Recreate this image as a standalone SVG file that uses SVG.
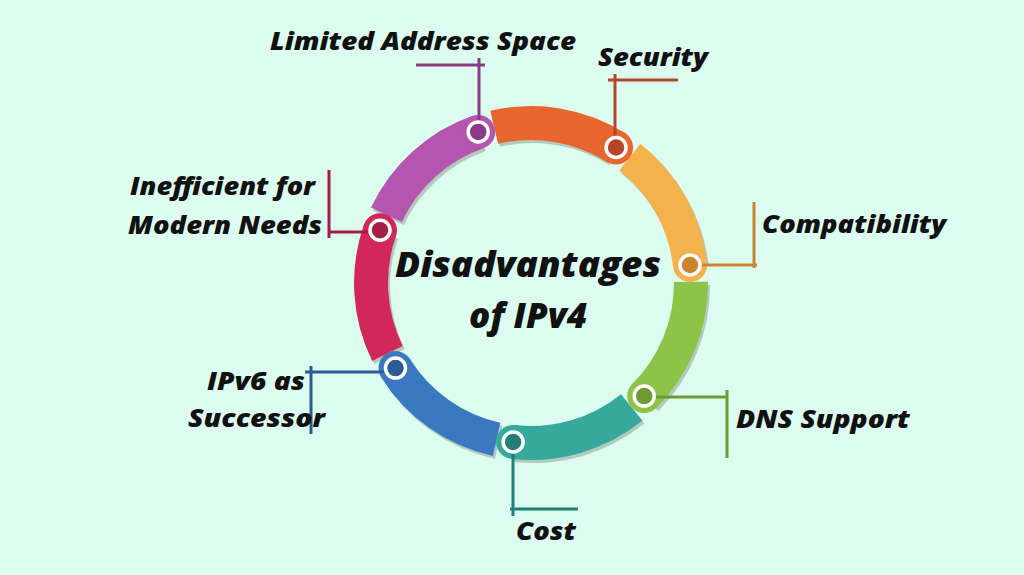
<svg xmlns="http://www.w3.org/2000/svg" width="1024" height="575" viewBox="0 0 1024 575">
<style>
.seg{fill:none;stroke-width:34;stroke-linecap:butt}
.sh{fill:none;stroke:#9fb3aa;stroke-width:34;opacity:.7}
.dot{stroke:#ffffff;stroke-width:3.5}
.ln{stroke-width:3;fill:none}
.lbl{font-family:"Open Sans","Liberation Sans",sans-serif;font-weight:800;font-style:italic;font-size:24px;fill:#111}
.ttl{font-family:"Open Sans","Liberation Sans",sans-serif;font-weight:800;font-style:italic;font-size:35px;fill:#111;text-anchor:middle}
</style>
<rect width="1024" height="575" fill="#dcfcef"/>
<g id="ring">
<g transform="translate(2,3)">
<path class="sh" d="M386.4,214.8 A160,160 0 0 1 478.2,131.9"/>
<path class="sh" d="M494.2,127.3 A160,160 0 0 1 616.1,147.5"/>
<path class="sh" d="M629.9,157.1 A160,160 0 0 1 690,265"/>
<path class="sh" d="M691,281.8 A160,160 0 0 1 644.2,396.1"/>
<path class="sh" d="M631.7,407.4 A160,160 0 0 1 513.1,442"/>
<path class="sh" d="M496.6,439.3 A160,160 0 0 1 395.5,368.1"/>
<path class="sh" d="M387.4,353.5 A160,160 0 0 1 380,230.2"/>
</g>
<path class="seg" stroke="#b455b0" d="M386.4,214.8 A160,160 0 0 1 478.2,131.9"/>
<path class="seg" stroke="#e8652f" d="M494.2,127.3 A160,160 0 0 1 616.1,147.5"/>
<path class="seg" stroke="#f4b24c" d="M629.9,157.1 A160,160 0 0 1 690,265"/>
<path class="seg" stroke="#8dc447" d="M691,281.8 A160,160 0 0 1 644.2,396.1"/>
<path class="seg" stroke="#36a99c" d="M631.7,407.4 A160,160 0 0 1 513.1,442"/>
<path class="seg" stroke="#3a78bf" d="M496.6,439.3 A160,160 0 0 1 395.5,368.1"/>
<path class="seg" stroke="#d2275a" d="M387.4,353.5 A160,160 0 0 1 380,230.2"/>
<circle cx="478.2" cy="131.9" r="17" fill="#b455b0"/>
<circle cx="616.1" cy="147.5" r="17" fill="#e8652f"/>
<circle cx="690" cy="265" r="17" fill="#f4b24c"/>
<circle cx="644.2" cy="396.1" r="17" fill="#8dc447"/>
<circle cx="513.1" cy="442" r="17" fill="#36a99c"/>
<circle cx="395.5" cy="368.1" r="17" fill="#3a78bf"/>
<circle cx="380" cy="230.2" r="17" fill="#d2275a"/>
</g>
<g id="connectors">
<path class="ln" stroke="#8b3a87" d="M479,132V58M416,65H485"/>
<path class="ln" stroke="#b5452a" d="M615,148V74M608,80H678"/>
<path class="ln" stroke="#c9862f" d="M690,265H757M754,202V268"/>
<path class="ln" stroke="#6d9a31" d="M646,397H728M727,390V458"/>
<path class="ln" stroke="#237e75" d="M513,442V516M510,509H578"/>
<path class="ln" stroke="#2b5a95" d="M305,372H397M311,366V434"/>
<path class="ln" stroke="#a11e47" d="M328,232H378M329,170V238"/>
</g>
<g id="dots">
<circle class="dot" cx="478.2" cy="131.9" r="10" fill="#8b3a87"/>
<circle class="dot" cx="616.1" cy="147.5" r="10" fill="#b5452a"/>
<circle class="dot" cx="690" cy="265" r="10" fill="#c9862f"/>
<circle class="dot" cx="644.2" cy="396.1" r="10" fill="#6d9a31"/>
<circle class="dot" cx="513.1" cy="442" r="10" fill="#237e75"/>
<circle class="dot" cx="395.5" cy="368.1" r="10" fill="#2b5a95"/>
<circle class="dot" cx="380" cy="230.2" r="10" fill="#a11e47"/>
</g>
<g id="title"><text class="ttl" x="528" y="277" textLength="266" lengthAdjust="spacingAndGlyphs">Disadvantages</text><text class="ttl" x="528" y="328">of IPv4</text></g>
<g id="n-limited"><text class="lbl" x="270" y="50" textLength="306" lengthAdjust="spacingAndGlyphs">Limited Address Space</text></g>
<g id="n-security"><text class="lbl" x="598" y="66" textLength="110" lengthAdjust="spacingAndGlyphs">Security</text></g>
<g id="n-compat"><text class="lbl" x="762" y="233" textLength="184" lengthAdjust="spacingAndGlyphs">Compatibility</text></g>
<g id="n-dns"><text class="lbl" x="736" y="428" textLength="174" lengthAdjust="spacingAndGlyphs">DNS Support</text></g>
<g id="n-cost"><text class="lbl" x="516" y="540" textLength="60" lengthAdjust="spacingAndGlyphs">Cost</text></g>
<g id="n-ipv6"><text class="lbl" x="207" y="390" textLength="98" lengthAdjust="spacingAndGlyphs">IPv6 as</text><text class="lbl" x="188" y="427" textLength="137" lengthAdjust="spacingAndGlyphs">Successor</text></g>
<g id="n-ineff"><text class="lbl" x="130" y="195" textLength="185" lengthAdjust="spacingAndGlyphs">Inefficient for</text><text class="lbl" x="128" y="234" textLength="194" lengthAdjust="spacingAndGlyphs">Modern Needs</text></g>
</svg>
